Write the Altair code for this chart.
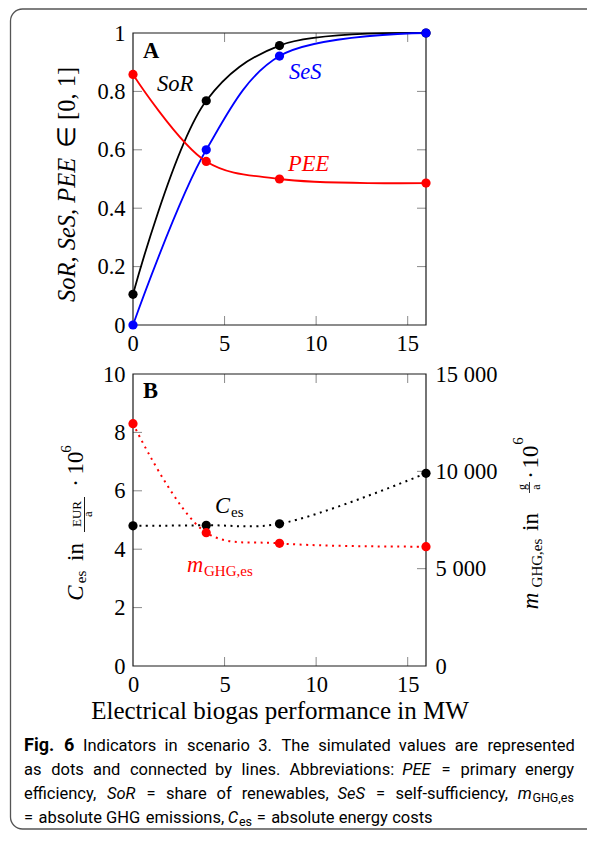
import altair as alt
import pandas as pd

# ---------------- data ----------------
mw = [0, 4, 8, 16]
sor = [0.105, 0.768, 0.957, 1.0]
ses = [0.0, 0.600, 0.921, 1.0]
pee = [0.858, 0.560, 0.500, 0.486]
c_es = [4.80, 4.82, 4.87, 6.60]
m_ghg = [12450, 6850, 6300, 6130]

series_names = ["SoR", "SeS", "PEE"]
series_colors = ["#000000", "#0000ff", "#ff0000"]

x_ticks = [0, 5, 10, 15]
x_inner_ticks = [5, 10, 15]
yA_ticks = [0, 0.2, 0.4, 0.6, 0.8, 1]
yA_inner = [0.2, 0.4, 0.6, 0.8]
yBl_ticks = [0, 2, 4, 6, 8, 10]
yBl_inner = [2, 4, 6, 8]
yBr_ticks = [0, 5000, 10000, 15000]
yBr_inner = [5000, 10000]

# ---------------- layout ----------------
SERIF = "Liberation Serif"
SANS = "Roboto"
OX, OY = 133, 33          # page position of plot origin
W, H = 293, 633           # plot area (both panels)
A_B = 292                 # bottom of panel A (plot coords)
B_T = 341                 # top of panel B
TL = 9                    # tick length
TICKC = "#8a8a8a"
FS = 22.5

dfA = pd.DataFrame({
    "x": mw * 3,
    "v": sor + ses + pee,
    "s": ["SoR"] * 4 + ["SeS"] * 4 + ["PEE"] * 4,
    "o": [0] * 4 + [1] * 4 + [2] * 4,
})
dfC = pd.DataFrame({"x": mw, "v": c_es})
dfM = pd.DataFrame({"x": mw, "v": m_ghg})
one = pd.DataFrame({"k": [0]})

xs = alt.Scale(domain=[0, 16], nice=False, zero=False)
xaxis = alt.Axis(values=x_ticks, ticks=False, domain=False, grid=False, labelFlush=False,
                 labelPadding=7, labelFont=SERIF, labelFontSize=FS, labelColor="black",
                 title="Electrical biogas performance in MW", titleFont=SERIF,
                 titleFontSize=25, titleFontWeight="normal", titleColor="black",
                 titlePadding=3)


def X():
    return alt.X("x:Q", scale=xs, axis=xaxis)


sA = dict(domain=[0, 1], range=[A_B, 0], nice=False, zero=False)
sBl = dict(domain=[0, 10], range=[H, B_T], nice=False, zero=False)
sBr = dict(domain=[0, 15000], range=[H, B_T], nice=False, zero=False)


def Y(field, sc, axis=None):
    return alt.Y(field, scale=alt.Scale(**sc), axis=axis)


def yaxis(values, orient, fmt=None, expr=None, pad=8):
    kw = dict(values=values, orient=orient, ticks=False, domain=False, grid=False,
              labelPadding=pad, labelFont=SERIF, labelFontSize=FS, labelColor="black",
              labelFlush=False, title=None)
    if fmt:
        kw["format"] = fmt
    if expr:
        kw["labelExpr"] = expr
    return alt.Axis(**kw)


axA = yaxis(yA_ticks, "left", fmt="~g")
axBl = yaxis(yBl_ticks, "left", fmt="d")
axBr = yaxis(yBr_ticks, "right", expr="replace(format(datum.value, ','), ',', ' ')", pad=9)


def txt(s, x, y, size=FS, style="normal", weight="normal", color="black",
        angle=0, align="left", baseline="alphabetic", font=SERIF):
    return alt.Chart(one).mark_text(
        text=s, fontSize=size, fontStyle=style, fontWeight=weight, color=color,
        angle=angle, align=align, baseline=baseline, font=font
    ).encode(x=alt.value(x - OX), y=alt.value(y - OY))


def vrule(x, y1, y2, color="black", width=1.0):
    return alt.Chart(one).mark_rule(color=color, strokeWidth=width).encode(
        x=alt.value(x - OX), y=alt.value(y1 - OY), y2=alt.value(y2 - OY))


# approximate advance widths (em) of the sans caption font, used for word layout
_RW = {" ": .248, "a": .544, "b": .547, "c": .510, "d": .549, "e": .517, "f": .339,
       "g": .547, "h": .538, "i": .237, "j": .233, "k": .495, "l": .237, "m": .855,
       "n": .539, "o": .557, "p": .547, "q": .552, "r": .331, "s": .503, "t": .319,
       "u": .538, "v": .473, "w": .733, "x": .484, "y": .461, "z": .484,
       "A": .652, "B": .623, "C": .651, "E": .568, "F": .553, "G": .681, "H": .714,
       "I": .272, "P": .631, "R": .616, "S": .593, "T": .596, "M": .874, "W": .889,
       ".": .263, ",": .192, ":": .237, "=": .547, "-": .270}


def tw(s, size):
    return sum(_RW.get(ch, .56) for ch in s) * size


CS = 16.5
SUB = 12.5


def caption_line(tokens, x0, x1, y, justify=True):
    """tokens: list of lists of (text, style, is_sub)."""
    widths = []
    for tok in tokens:
        widths.append(sum(tw(t, SUB if sub else CS) for t, _, sub in tok))
    n = len(tokens)
    if justify and n > 1:
        gap = (x1 - x0 - sum(widths)) / (n - 1)
    else:
        gap = 0.33 * CS
    out = []
    x = x0
    for tok, wdt in zip(tokens, widths):
        xx = x
        for t, st, sub in tok:
            size = SUB if sub else CS
            out.append(txt(t, xx, y + (3 if sub else 0), size=size, style=st, font=SANS))
            xx += tw(t, size) + (0.5 if not sub else 0)
        x += wdt + gap
    return out


def plain(words):
    return [[(w, "normal", False)] for w in words.split()]


layers = []

# outer framed box
layers.append(alt.Chart(one).mark_rect(
    fillOpacity=0, stroke="#555555", strokeWidth=1.3, cornerRadius=12
).encode(x=alt.value(10.5 - OX), x2=alt.value(640 - OX),
         y=alt.value(9 - OY), y2=alt.value(829 - OY)))

# inward ticks (x)
xt = pd.DataFrame({"x": x_inner_ticks})
for y0, y1 in [(A_B, A_B - TL), (0, TL), (H, H - TL), (B_T, B_T + TL)]:
    layers.append(alt.Chart(xt).mark_rule(color=TICKC, strokeWidth=1).encode(
        x=X(), y=alt.value(y0), y2=alt.value(y1)))

# inward ticks (y)
for vals, sc in [(yA_inner, sA), (yBl_inner, sBl)]:
    d = pd.DataFrame({"t": vals})
    layers.append(alt.Chart(d).mark_rule(color=TICKC, strokeWidth=1).encode(
        y=Y("t:Q", sc), x=alt.value(0), x2=alt.value(TL)))
for vals, sc in [(yA_inner, sA), (yBr_inner, sBr)]:
    d = pd.DataFrame({"t": vals})
    layers.append(alt.Chart(d).mark_rule(color=TICKC, strokeWidth=1).encode(
        y=Y("t:Q", sc), x=alt.value(W - TL), x2=alt.value(W)))

# panel frames
for y0, y1 in [(0, A_B), (B_T, H)]:
    layers.append(alt.Chart(one).mark_rect(
        fillOpacity=0, stroke="#1a1a1a", strokeWidth=1.2
    ).encode(x=alt.value(0), x2=alt.value(W), y=alt.value(y0), y2=alt.value(y1)))

cscale = alt.Scale(domain=series_names, range=series_colors)

# panel A lines + points
layers.append(alt.Chart(dfA).mark_line(interpolate="catmull-rom", strokeWidth=1.8).encode(
    x=X(), y=Y("v:Q", sA), color=alt.Color("s:N", scale=cscale, legend=None),
    order="o:Q"))
layers.append(alt.Chart(dfA).mark_circle(size=85, opacity=1).encode(
    x=X(), y=Y("v:Q", sA, axA), color=alt.Color("s:N", scale=cscale, legend=None),
    order="o:Q"))

# panel B dotted lines + points
layers.append(alt.Chart(dfC).mark_line(interpolate="catmull-rom", strokeWidth=2,
                                       strokeDash=[2, 4.5], color="black").encode(
    x=X(), y=Y("v:Q", sBl)))
layers.append(alt.Chart(dfM).mark_line(interpolate="catmull-rom", strokeWidth=2,
                                       strokeDash=[2, 4.5], color="#ff0000").encode(
    x=X(), y=Y("v:Q", sBr)))
layers.append(alt.Chart(dfC).mark_circle(size=85, opacity=1, color="black").encode(
    x=X(), y=Y("v:Q", sBl, axBl)))
layers.append(alt.Chart(dfM).mark_circle(size=85, opacity=1, color="#ff0000").encode(
    x=X(), y=Y("v:Q", sBr, axBr)))

# panel A x tick labels
layers.append(alt.Chart(pd.DataFrame({"x": x_ticks})).mark_text(
    baseline="top", font=SERIF, fontSize=FS, color="black"
).encode(x=X(), y=alt.value(A_B + 8), text=alt.Text("x:Q", format="d")))

# in-plot annotations
layers += [
    txt("A", 143, 58, weight="bold"),
    txt("SoR", 157, 91, style="italic"),
    txt("SeS", 289, 79, style="italic", color="#0000ff"),
    txt("PEE", 288, 171, style="italic", color="#ff0000"),
    txt("B", 143, 398, weight="bold"),
    txt("C", 215, 513, style="italic"),
    txt("es", 231, 517, size=15),
    txt("m", 187, 572, style="italic", color="#ff0000"),
    txt("GHG,es", 204, 576, size=15, color="#ff0000"),
]

# axis titles (rotated)
layers += [
    txt("SoR, SeS, PEE", 75, 302, style="italic", angle=270, size=24.5),
    txt("\u2208 [0, 1]", 75, 148, angle=270, size=24.5),
    # left title panel B
    txt("C", 83, 593, style="italic", angle=270, align="center", size=23),
    txt("es", 86, 577, angle=270, align="center", size=15),
    txt("in", 83, 552, angle=270, align="center", size=23),
    txt("EUR", 81, 514, angle=270, align="center", size=13),
    vrule(84.5, 497, 532, width=0.9),
    txt("a", 92, 514, angle=270, align="center", size=13),
    txt("\u00b7", 83, 483, angle=270, align="center", size=23),
    txt("10", 83, 463, angle=270, align="center", size=23),
    txt("6", 71, 449, angle=270, align="center", size=15),
    # right title panel B
    txt("m", 538, 601, style="italic", angle=270, align="center", size=23),
    txt("GHG,es", 542, 563, angle=270, align="center", size=15),
    txt("in", 538, 522, angle=270, align="center", size=23),
    txt("g", 526, 487, angle=270, align="center", size=12),
    vrule(529.5, 482, 493, width=0.8),
    txt("a", 540, 487, angle=270, align="center", size=12),
    txt("\u00b7", 538, 475, angle=270, align="center", size=23),
    txt("10", 538, 457, angle=270, align="center", size=23),
    txt("6", 523, 441, angle=270, align="center", size=15),
]

# caption (justified lines)
XL, XR = 24, 573
layers += [
    txt("Fig.", 24, 751, size=18, weight="bold", font=SANS),
    txt("6", 64, 751, size=18, weight="bold", font=SANS),
]
layers += caption_line(plain("Indicators in scenario 3. The simulated values are represented"),
                       83, XR, 751)
layers += caption_line(plain("as dots and connected by lines. Abbreviations:")
                       + [[("PEE", "italic", False)]] + plain("= primary energy"),
                       XL, XR, 775)
layers += caption_line(plain("efficiency,") + [[("SoR", "italic", False)]]
                       + plain("= share of renewables,") + [[("SeS", "italic", False)]]
                       + plain("= self-sufficiency,")
                       + [[("m", "italic", False), ("GHG,es", "normal", True)]],
                       XL, XR, 799)
layers += caption_line(plain("= absolute GHG emissions,")
                       + [[("C", "italic", False), ("es", "normal", True)]]
                       + plain("= absolute energy costs"),
                       XL, XR, 823, justify=False)

chart = alt.layer(*layers).resolve_scale(y="independent").properties(
    width=W, height=H,
    autosize=alt.AutoSizeParams(type="none"),
    padding={"left": OX - 8, "top": OY - 8, "right": 579 - (OX - 8) - W, "bottom": 822 - (OY - 8) - H},
    background="white",
).configure_view(stroke=None)

chart.save("out.html", embed_options={"renderer": "svg", "actions": False})
